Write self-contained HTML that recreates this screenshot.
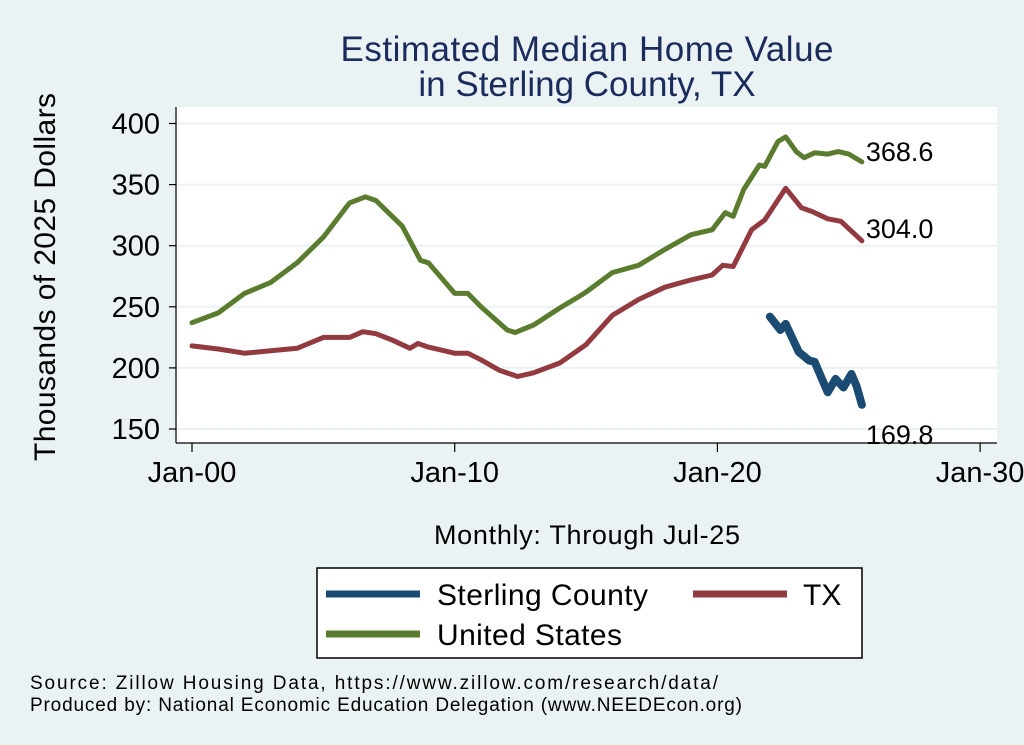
<!DOCTYPE html>
<html><head><meta charset="utf-8"><style>
body{margin:0;background:#eaf2f3;font-family:"Liberation Sans",sans-serif;}
svg{display:block}
</style></head><body>
<svg width="1024" height="745" xmlns="http://www.w3.org/2000/svg">
<rect width="1024" height="745" fill="#eaf2f3"/>
<rect x="176" y="107" width="821" height="336" fill="#fff"/>
<g id="grid"></g>
<g id="series"></g>
<g id="axes"></g>
<text x="587" y="61" text-anchor="middle" font-size="35" textLength="493" fill="#1a2b5c">Estimated Median Home Value</text>
<text x="587" y="96" text-anchor="middle" font-size="35" fill="#1a2b5c">in Sterling County, TX</text>
<text transform="translate(55,277) rotate(-90)" text-anchor="middle" font-size="30" textLength="368" fill="#000">Thousands of 2025 Dollars</text>
<text x="587" y="544" text-anchor="middle" font-size="27" textLength="306" fill="#000">Monthly: Through Jul-25</text>
<g>
<rect x="317" y="568" width="545" height="90" fill="#fff" stroke="#000" stroke-width="1.5"/>
<line x1="326" y1="594" x2="420" y2="594" stroke="#1b4a72" stroke-width="7"/>
<text x="437" y="605" font-size="30" textLength="211">Sterling County</text>
<line x1="693" y1="594" x2="787" y2="594" stroke="#933a41" stroke-width="7"/>
<text x="803" y="605" font-size="30">TX</text>
<line x1="326" y1="634" x2="420" y2="634" stroke="#5b7c2e" stroke-width="7"/>
<text x="437" y="645" font-size="30" textLength="185">United States</text>
</g>
<text x="30" y="689" font-size="19" textLength="688">Source: Zillow Housing Data, https://www.zillow.com/research/data/</text>
<text x="30" y="711" font-size="19" textLength="712">Produced by: National Economic Education Delegation (www.NEEDEcon.org)</text>
</svg>
<script>
const yTicks=[150,200,250,300,350,400];
const xTickYears=[2000,2010,2020,2030];
const xTickLabels=["Jan-00","Jan-10","Jan-20","Jan-30"];
const usDates=[2000,2001,2002,2003,2004,2005,2006,2006.6,2007,2008,2008.7,2009,2010,2010.5,2011,2012,2012.3,2013,2014,2014.7,2015,2016,2017,2018,2019,2019.8,2020.3,2020.6,2021,2021.6,2021.8,2022.3,2022.6,2023,2023.3,2023.7,2024.2,2024.6,2025,2025.5];
const usValues=[237,245,261,270,286,307,335,340,337,316,288,286,261,261,250,231,229,235,249,258,262,278,284,297,309,313,327,324,346,366,365,385,389,377,372,376,375,377,375,368.6];
const txDates=[2000,2001,2002,2003,2004,2005,2006,2006.5,2007,2007.6,2008.3,2008.6,2009,2010,2010.5,2011,2011.7,2012.4,2013,2014,2015,2016,2017,2018,2019,2019.8,2020.2,2020.6,2021.3,2021.8,2022.6,2023.2,2023.6,2024.2,2024.7,2025.5];
const txValues=[218,215.5,212,214,216,225,225,229.6,228,223,216,220,217,212,212,206.6,198,193,196,204,219,243,256,266,272,276,284,283,313,321,347,331,328,322,320,304];
const stDates=[2022,2022.4,2022.6,2023.1,2023.5,2023.7,2024.2,2024.5,2024.8,2025.1,2025.3,2025.5];
const stValues=[242,231,236,213,206,205,180,191,184,195,185,169.8];
const endLabels=["368.6","304.0","169.8"];
const NS="http://www.w3.org/2000/svg";
const xS=t=>192+(t-2000)*26.27;
const yS=v=>429-(v-150)*1.222;
function mk(tag,attrs,parent){const e=document.createElementNS(NS,tag);for(const k in attrs)e.setAttribute(k,attrs[k]);parent.appendChild(e);return e;}
const grid=document.getElementById('grid'),axes=document.getElementById('axes'),ser=document.getElementById('series');
yTicks.forEach(v=>{
 const g=mk('line',{x1:176,x2:997,y1:yS(v),y2:yS(v),stroke:'#eaf2f3','stroke-width':2},grid);
 
 
 const t=mk('line',{x1:169,x2:176,y1:yS(v),y2:yS(v),stroke:'#000','stroke-width':1.2},axes);
 
 
 const l=mk('text',{x:160,y:yS(v)+10,'text-anchor':'end','font-size':29},axes);
 l.textContent=v;
 
 
});
mk('line',{x1:176,x2:176,y1:107,y2:443,stroke:'#000','stroke-width':1.2},axes);
mk('line',{x1:176,x2:997,y1:443,y2:443,stroke:'#000','stroke-width':1.2},axes);
xTickYears.forEach((yr,i)=>{
 const t=mk('line',{x1:xS(yr),x2:xS(yr),y1:443,y2:452,stroke:'#000','stroke-width':1.2},axes);
 
 
 const l=mk('text',{x:xS(yr),y:482,'text-anchor':'middle','font-size':29},axes);
 l.textContent=xTickLabels[i];
 
 
});
function line(d,v,col,w,name){
 const p=mk('path',{d:d.map((t,i)=>(i?'L':'M')+xS(t).toFixed(1)+','+yS(v[i]).toFixed(1)).join(''),fill:'none',stroke:col,'stroke-width':w,'stroke-linejoin':'round','stroke-linecap':'round'},ser);
 
 
}
line(usDates,usValues,'#5b7c2e',5,'line-united-states');
line(txDates,txValues,'#933a41',5,'line-tx');
line(stDates,stValues,'#1b4a72',8,'line-sterling-county');
const ends=[[usDates,usValues,-10],[txDates,txValues,-12],[stDates,stValues,30]];
ends.forEach((e,i)=>{
 const t=e[0][e[0].length-1],v=e[1][e[1].length-1];
 const l=mk('text',{x:xS(t)+4,y:yS(v)+e[2]+9,'font-size':27},ser);
 l.textContent=endLabels[i];
 
 
});
</script>
</body></html>
